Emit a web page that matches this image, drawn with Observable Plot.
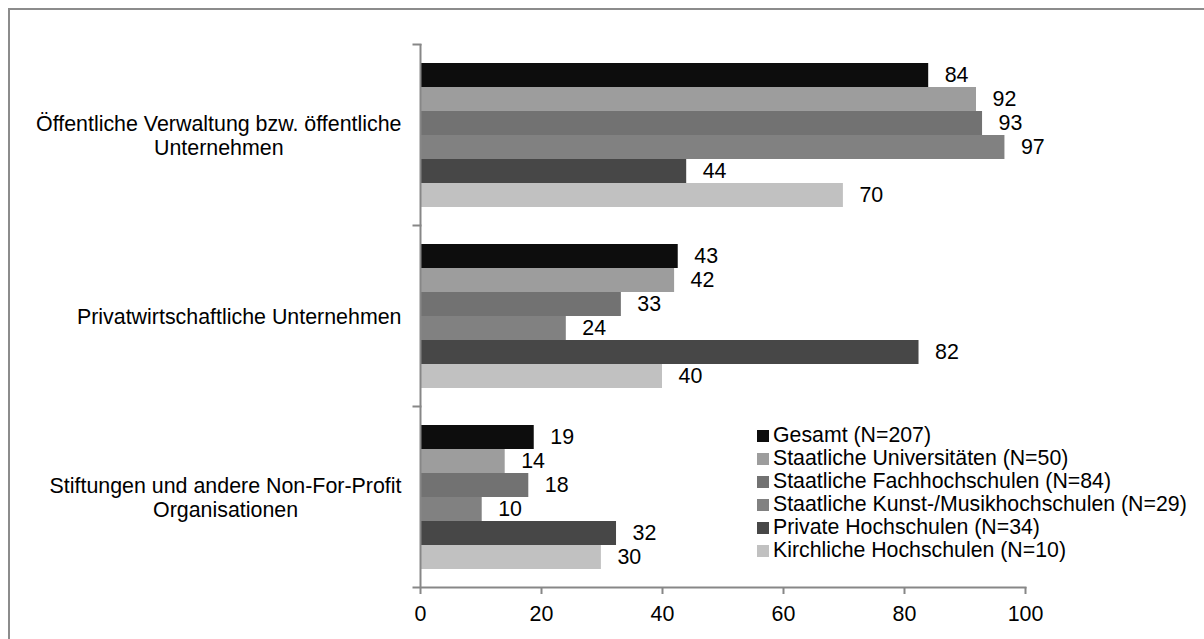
<!DOCTYPE html>
<html><head><meta charset="utf-8">
<script src="https://cdn.jsdelivr.net/npm/d3@7"></script>
<script src="https://cdn.jsdelivr.net/npm/@observablehq/plot@0.6"></script>
<style>
body{margin:0;width:1204px;height:639px;overflow:hidden;position:relative;background:#fff;font-family:"Liberation Sans",Arial,sans-serif;}
#border{position:absolute;left:8px;top:8px;width:1300px;height:800px;border:2px solid #8c8c8c;box-sizing:border-box;}
#chart{position:absolute;left:0;top:0;}
#legend{position:absolute;left:757px;top:424px;font-size:21.3px;color:#000;}
.row{height:23px;white-space:nowrap;display:flex;align-items:center;}
.sw{width:12px;height:12px;margin-right:4px;flex:none;}
</style></head><body>
<div id="border"></div>
<div id="chart"></div>
<div id="legend"></div>
<script>
const categories = ["Öffentliche Verwaltung bzw. öffentliche Unternehmen", "Privatwirtschaftliche Unternehmen", "Stiftungen und andere Non-For-Profit Organisationen"];
const categoryLabels = ["Öffentliche Verwaltung bzw. öffentliche\nUnternehmen", "Privatwirtschaftliche Unternehmen", "Stiftungen und andere Non-For-Profit\nOrganisationen"];
const series = ["Gesamt (N=207)", "Staatliche Universitäten (N=50)", "Staatliche Fachhochschulen (N=84)", "Staatliche Kunst-/Musikhochschulen (N=29)", "Private Hochschulen (N=34)", "Kirchliche Hochschulen (N=10)"];
const gesamt = [84, 42.6, 18.8];
const staatlicheUni = [91.9, 42, 14];
const staatlicheFH = [92.9, 33.2, 17.9];
const kunstMusik = [96.6, 24.1, 10.2];
const privat = [44, 82.4, 32.4];
const kirchlich = [69.9, 40, 29.9];
const xTicks = [0, 20, 40, 60, 80, 100];
const colors = ["#0d0d0d", "#9d9d9d", "#727272", "#818181", "#474747", "#c1c1c1"];

const seriesValues = [gesamt, staatlicheUni, staatlicheFH, kunstMusik, privat, kirchlich];
const data = [];
categories.forEach((c, i) => series.forEach((s, j) => data.push({category: c, series: s, value: seriesValues[j][i]})));

const W = 1204, H = 639, ML = 420, MR = 179;
const FS = 21.4;
const FONT = '"Liberation Sans", Arial, sans-serif';
const axisGray = "#878787";

// measure label widths so that each label block is right-aligned with its lines centred
const ctx = document.createElement("canvas").getContext("2d");
ctx.font = `${FS}px ${FONT}`;
const blockWidth = lbl => Math.max(...lbl.split("\n").map(l => ctx.measureText(l).width));

const labelMarks = categories.map((c, i) => Plot.text([c], {
  fy: d => d, text: () => categoryLabels[i], frameAnchor: "left",
  dx: -19 - blockWidth(categoryLabels[i]) / 2, textAnchor: "middle",
  lineHeight: 1.15, fontSize: FS, fill: "#000"
}));

const plot = Plot.plot({
  width: W, height: H,
  marginLeft: ML, marginRight: MR, marginTop: 43, marginBottom: 52,
  style: {fontFamily: FONT, fontSize: FS + "px", color: "#000", background: "transparent"},
  x: {domain: [0, 100], axis: null},
  y: {domain: series, paddingInner: 0, paddingOuter: 0.75, axis: null},
  fy: {domain: categories, padding: 0, axis: null},
  color: {domain: series, range: colors},
  marks: [
    Plot.barX(data, {fy: "category", y: "series", x: "value", fill: "series"}),
    Plot.text(data, {fy: "category", y: "series", x: "value", text: d => String(Math.round(d.value)), textAnchor: "start", dx: 16, fontSize: FS, fill: "#000"}),
    Plot.ruleX([0], {stroke: axisGray, strokeWidth: 2}),
    Plot.frame({anchor: "top", insetLeft: -7, insetRight: W - ML - MR, stroke: axisGray, strokeWidth: 2}),
    Plot.frame({anchor: "bottom", facetAnchor: "bottom", insetLeft: -7, stroke: axisGray, strokeWidth: 2}),
    Plot.axisX({ticks: xTicks, tickSize: 7, tickPadding: 11, tickFormat: d => String(d), stroke: axisGray, strokeWidth: 2, fontSize: FS, label: null}),
    ...labelMarks
  ]
});
document.getElementById("chart").appendChild(plot);

const legend = document.getElementById("legend");
series.forEach((s, j) => {
  const row = document.createElement("div");
  row.className = "row";
  const sw = document.createElement("span");
  sw.className = "sw";
  sw.style.background = colors[j];
  const t = document.createElement("span");
  t.textContent = s;
  row.appendChild(sw); row.appendChild(t);
  legend.appendChild(row);
});
</script>
</body></html>
